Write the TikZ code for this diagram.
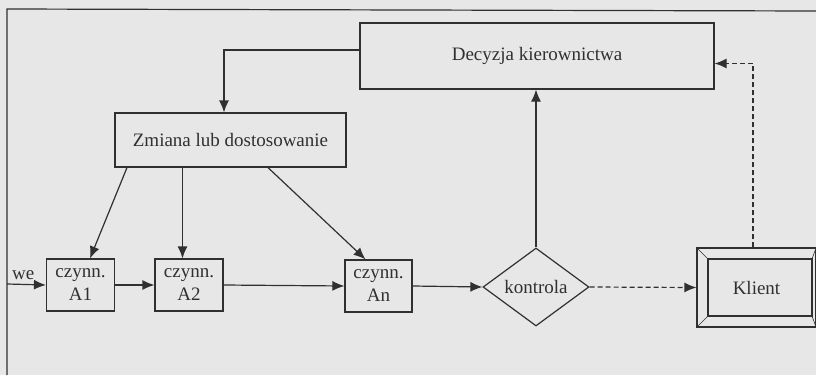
\documentclass[tikz,border=0pt]{standalone}
\usepackage{fontspec}
\setmainfont{Liberation Serif}
\usetikzlibrary{
  arrows.meta,
  calc,
  positioning,
  shapes.geometric
}
\definecolor{scanbg}{HTML}{E7E7E7}
\definecolor{inkgray}{HTML}{303030}

\tikzset{
  box/.style={draw=inkgray, line width=1.2pt, inner sep=0pt, text=inkgray},
  czynbox/.style={box, align=center, minimum width=68pt, minimum height=52pt},
  flow/.style={-{Latex[length=12pt,width=10pt]}, draw=inkgray, line width=1.2pt},
  dashflow/.style={flow, dash pattern=on 5pt off 3pt},
}

\begin{document}
\begin{tikzpicture}[x=1pt, y=-1pt, font=\fontsize{19}{23}\selectfont]
\useasboundingbox (0,0) rectangle (816,375);
\fill[scanbg] (0,0) rectangle (816,375);

% page frame of the scan
\draw[inkgray, line width=1.2pt] (816,11) -- (7,9) -- (7,375);

% top row: management decision and change
\node[box, minimum width=354pt, minimum height=66pt] (Dk) at (537,56) {Decyzja kierownictwa};
\node[box, minimum width=231pt, minimum height=54pt] (Zm) at (230.5,140) {Zmiana lub dostosowanie};

% activities
\node[czynbox] (A1) at (80.5,285) {czynn.\\A1};
\node[czynbox] (A2) at (189,285) {czynn.\\A2};
\node[czynbox, minimum width=67pt] (An) at (378.5,286) {czynn.\\An};

% control and client
\node[box, shape=diamond, aspect=1.36, minimum width=106pt, minimum height=78pt] (Ko) at (536,287) {kontrola};
\node[box, minimum width=119pt, minimum height=79pt] (Kl) at (756.5,287.5) {Klient};
\draw[inkgray, line width=1.2pt] (708,259) rectangle (812,316);
\draw[inkgray, line width=0.6pt]
  (697,248) -- (708,259)  (816,248) -- (812,259)
  (697,327) -- (708,316)  (816,327) -- (812,316);

% input
\coordinate (we) at (7,284);
\node[text=inkgray, anchor=south west, inner sep=1pt] at (11,281) {we};

% main flow
\draw[flow] (we) -- (A1.west);
\draw[flow] (A1.east) -- (A2.west);
\draw[flow] (A2.east) -- (An.west);
\draw[flow] (An.east) -- (Ko.west);
\draw[flow] (Ko.north) -- (Ko.north |- Dk.south);
\draw[dashflow] (Ko.east) -- (Kl.west);
\draw[dashflow] ([xshift=-3.5pt]Kl.north) |- ([yshift=-7.5pt]Dk.east);

% feedback to activities
\draw[flow] ([yshift=6pt]Dk.west) -| ([xshift=-6.5pt]Zm.north);
\draw[flow] ([xshift=-103.5pt]Zm.south) -- ([xshift=9.5pt]A1.north);
\draw[flow] ([xshift=-48pt]Zm.south) -- ([xshift=-48pt]Zm.south |- A2.north);
\draw[flow] ([xshift=37.5pt]Zm.south) -- ([xshift=-13pt]An.north);
\end{tikzpicture}
\end{document}
